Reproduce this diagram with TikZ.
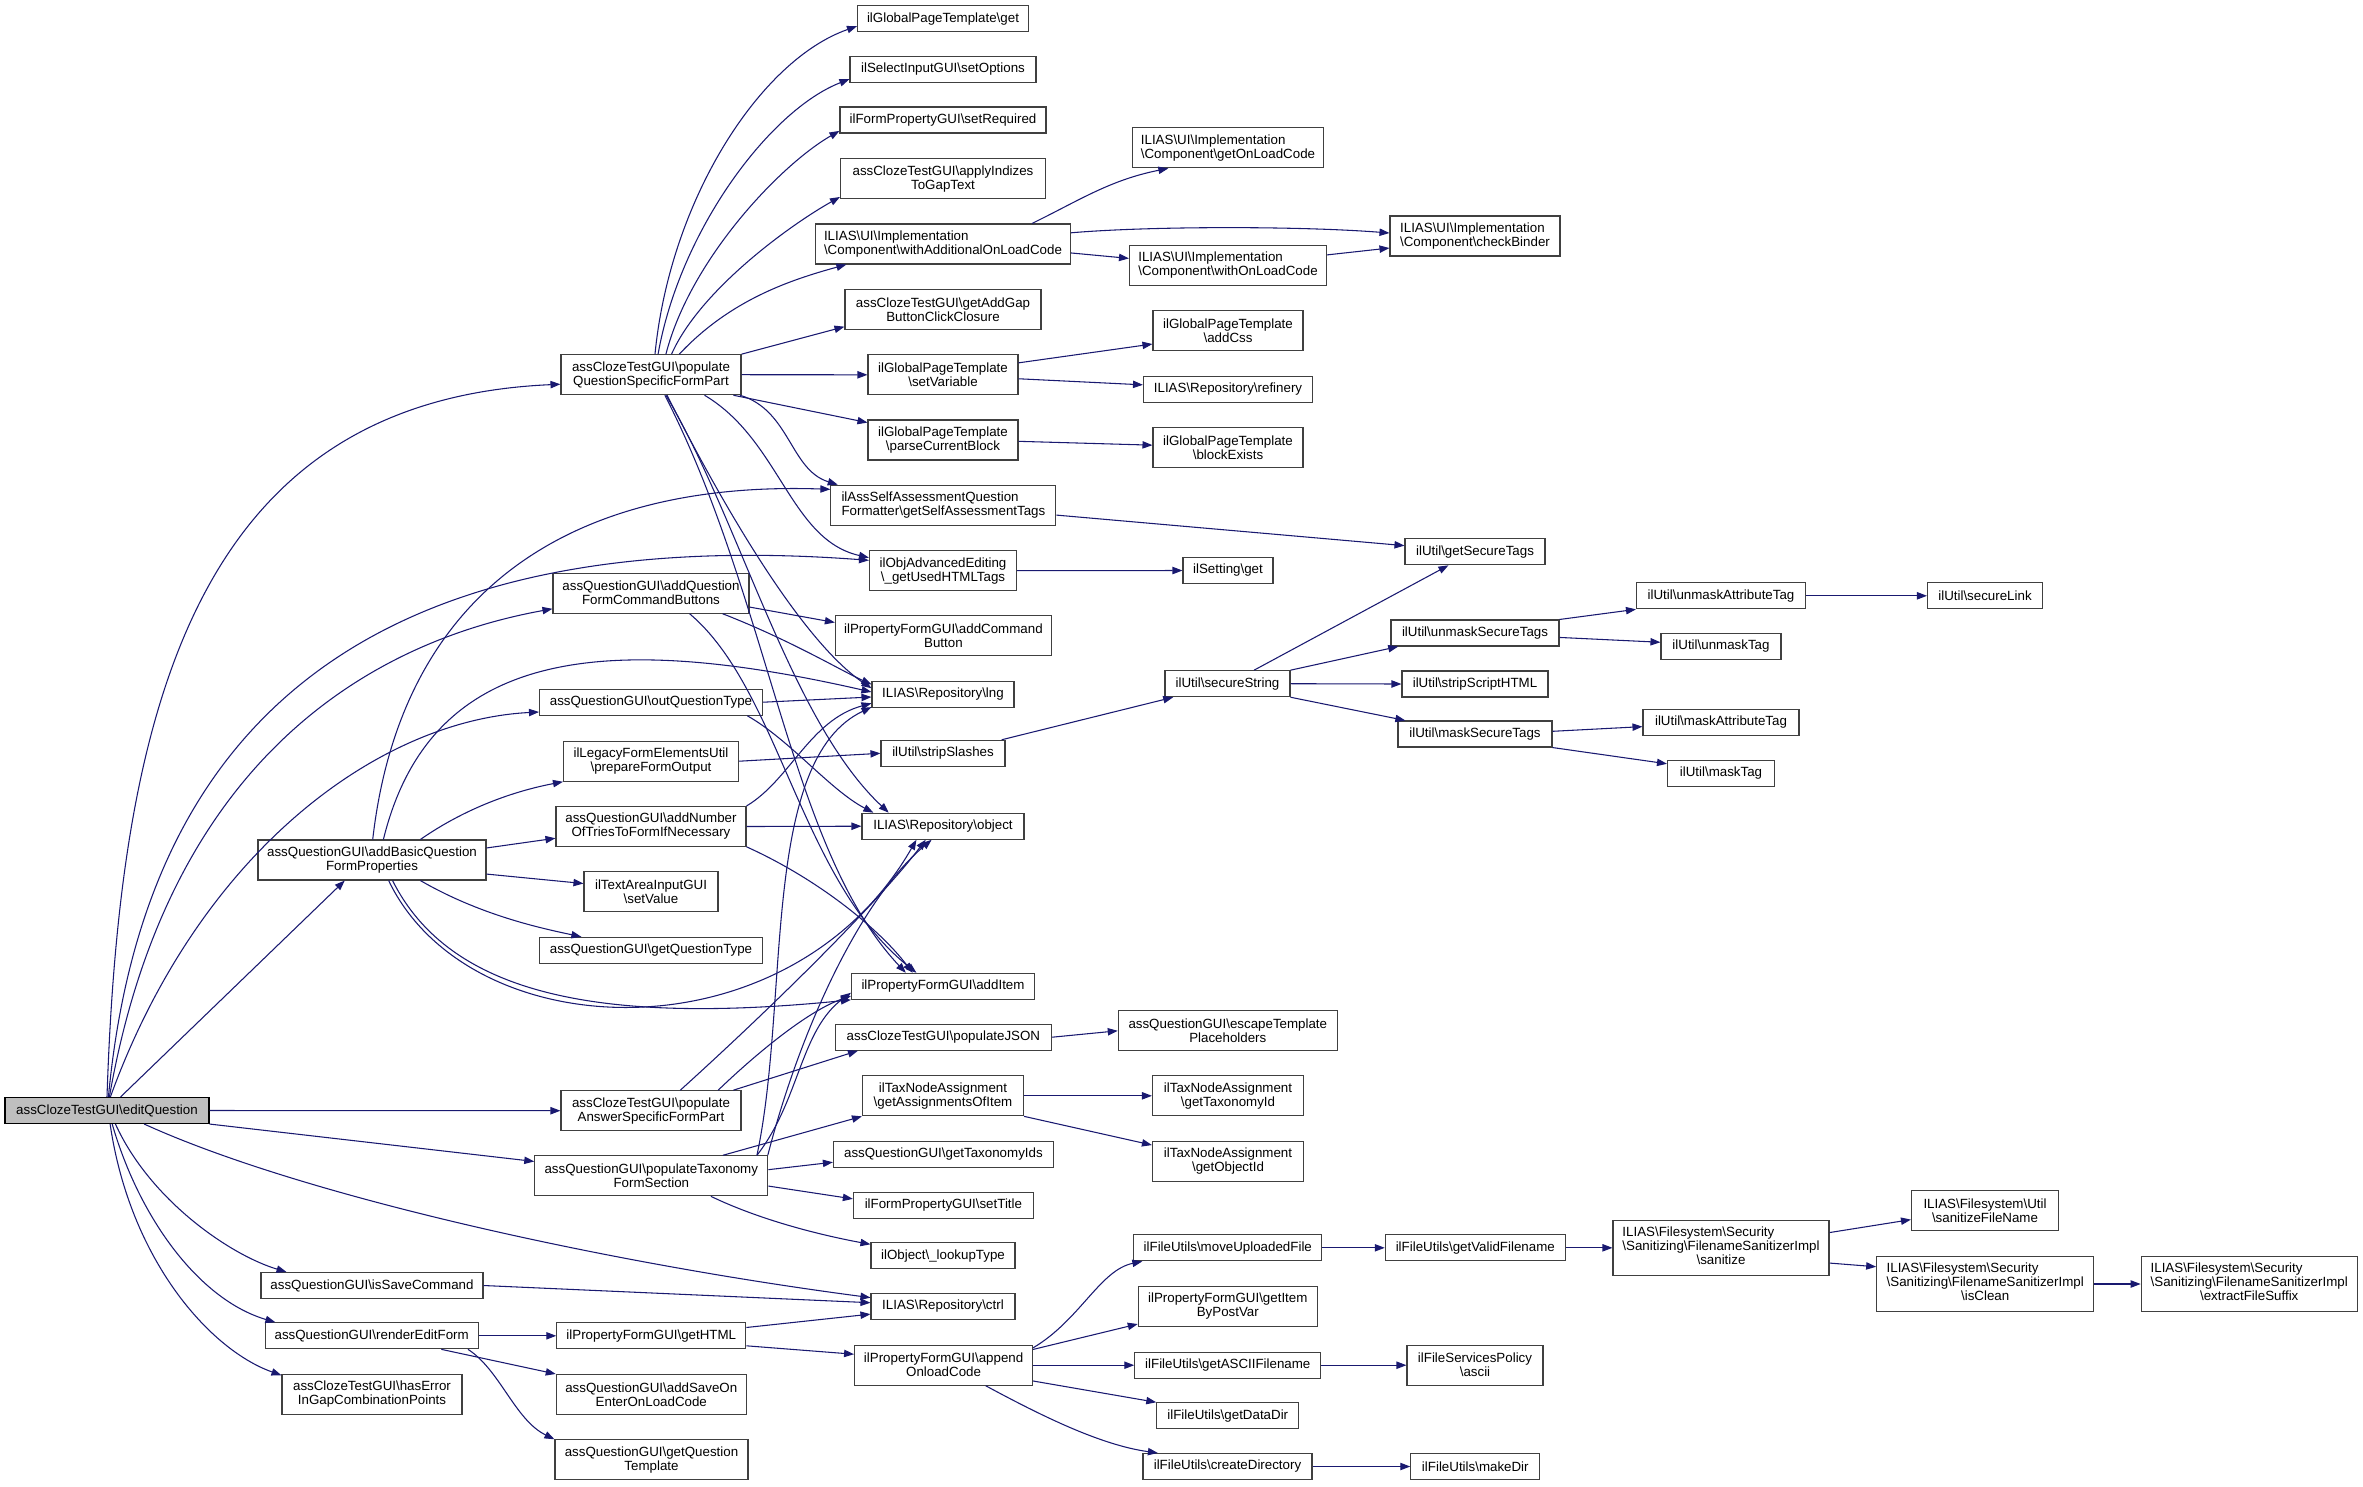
\documentclass[tikz,border=0pt]{standalone}
\usepackage{fontspec}
\setmainfont{Liberation Sans}
\usetikzlibrary{arrows.meta}
\definecolor{edgec}{RGB}{25,25,112}
\def\mybs{\textbackslash}
\begin{document}
\begin{tikzpicture}[x=0.75pt,y=-0.75pt,
  box/.style={draw=black!75, line width=0.8pt, fill=white, inner sep=0pt, font=\fontsize{10}{10.5}\selectfont, align=center},
  lbox/.style={box, align=left},
  hone/.style={minimum height=19.5pt},
  htwo/.style={minimum height=30pt},
  hthree/.style={minimum height=41.25pt},
  mw/.style={minimum width=#1*0.75pt},
  edg/.style={draw=edgec, line width=0.8pt, -{Triangle[length=7.5pt,width=5.5pt]}}]
\useasboundingbox (0,0) rectangle (2363,1486);
% ---------- nodes ----------
\node[box,hone,mw=171] (gptget) at (943,18.7) {ilGlobalPageTemplate\mybs get};
\node[box,hone,mw=186] (setOptions) at (943,69.3) {ilSelectInputGUI\mybs setOptions};
\node[box,hone,mw=206] (setRequired) at (943,120) {ilFormPropertyGUI\mybs setRequired};
\node[box,htwo,mw=205] (applyIndizes) at (943,178.8) {assClozeTestGUI\mybs applyIndizes\\ToGapText};
\node[lbox,htwo,mw=255] (withAdd) at (943,244) {ILIAS\mybs UI\mybs Implementation\\\mybs Component\mybs withAdditionalOnLoadCode};
\node[box,htwo,mw=196] (getAddGap) at (943,309.3) {assClozeTestGUI\mybs getAddGap\\ButtonClickClosure};
\node[box,htwo,mw=150] (setVar) at (943,374.8) {ilGlobalPageTemplate\\\mybs setVariable};
\node[box,htwo,mw=150] (parseCB) at (943,440) {ilGlobalPageTemplate\\\mybs parseCurrentBlock};
\node[lbox,htwo,mw=191] (getOnLoad) at (1228,147.8) {ILIAS\mybs UI\mybs Implementation\\\mybs Component\mybs getOnLoadCode};
\node[lbox,htwo,mw=170] (checkBinder) at (1475,236) {ILIAS\mybs UI\mybs Implementation\\\mybs Component\mybs checkBinder};
\node[lbox,htwo,mw=197] (withOnLoad) at (1228,265.3) {ILIAS\mybs UI\mybs Implementation\\\mybs Component\mybs withOnLoadCode};
\node[box,htwo,mw=150] (addCss) at (1228,330.7) {ilGlobalPageTemplate\\\mybs addCss};
\node[box,hone,mw=169] (refinery) at (1228,389.3) {ILIAS\mybs Repository\mybs refinery};
\node[box,htwo,mw=150] (blockExists) at (1228,447.8) {ilGlobalPageTemplate\\\mybs blockExists};
\node[box,htwo,mw=180] (popQS) at (651,374.7) {assClozeTestGUI\mybs populate\\QuestionSpecificFormPart};
\node[lbox,htwo,mw=225] (selfAssess) at (943.4,505.2) {ilAssSelfAssessmentQuestion\\Formatter\mybs getSelfAssessmentTags};
\node[box,htwo,mw=147] (objAdv) at (943,570.7) {ilObjAdvancedEditing\\\mybs\_getUsedHTMLTags};
\node[box,htwo,mw=216] (addCB) at (943.4,635.8) {ilPropertyFormGUI\mybs addCommand\\Button};
\node[box,hone,mw=142] (lng) at (943,694.5) {ILIAS\mybs Repository\mybs lng};
\node[box,hone,mw=124] (stripSl) at (943,753.3) {ilUtil\mybs stripSlashes};
\node[box,hone,mw=162] (object) at (943,826.2) {ILIAS\mybs Repository\mybs object};
\node[box,hone,mw=183] (addItem) at (943,986.3) {ilPropertyFormGUI\mybs addItem};
\node[box,hone,mw=90] (settingGet) at (1228,570.5) {ilSetting\mybs get};
\node[box,hone,mw=125] (secStr) at (1227.5,683.7) {ilUtil\mybs secureString};
\node[box,hone,mw=140] (getSecTags) at (1475,551.8) {ilUtil\mybs getSecureTags};
\node[box,hone,mw=168] (unmaskST) at (1475,633) {ilUtil\mybs unmaskSecureTags};
\node[box,hone,mw=146] (stripScript) at (1475,684) {ilUtil\mybs stripScriptHTML};
\node[box,hone,mw=154] (maskST) at (1475,734) {ilUtil\mybs maskSecureTags};
\node[box,hone,mw=169] (unmaskAttr) at (1721,595.8) {ilUtil\mybs unmaskAttributeTag};
\node[box,hone,mw=115] (secureLink) at (1985,595.8) {ilUtil\mybs secureLink};
\node[box,hone,mw=120] (unmaskTag) at (1721,646.5) {ilUtil\mybs unmaskTag};
\node[box,hone,mw=156] (maskAttr) at (1721,722.5) {ilUtil\mybs maskAttributeTag};
\node[box,hone,mw=107] (maskTag) at (1721,773.3) {ilUtil\mybs maskTag};
\node[box,htwo,mw=196] (addQFCB) at (651,593.2) {assQuestionGUI\mybs addQuestion\\FormCommandButtons};
\node[box,hone,mw=223] (outQT) at (651,702.2) {assQuestionGUI\mybs outQuestionType};
\node[box,htwo,mw=175] (legacy) at (651,761.2) {ilLegacyFormElementsUtil\\\mybs prepareFormOutput};
\node[box,htwo,mw=190] (addNT) at (651,826.5) {assQuestionGUI\mybs addNumber\\OfTriesToFormIfNecessary};
\node[box,htwo,mw=228] (addBasic) at (372,860) {assQuestionGUI\mybs addBasicQuestion\\FormProperties};
\node[box,htwo,mw=134] (textArea) at (651,891.8) {ilTextAreaInputGUI\\\mybs setValue};
\node[box,hone,mw=223] (getQT) at (651,950.3) {assQuestionGUI\mybs getQuestionType};
\node[box,hone,mw=204,fill=black!25,draw=black] (editQ) at (107,1110.5) {assClozeTestGUI\mybs editQuestion};
\node[box,htwo,mw=180] (popASFP) at (651,1110.7) {assClozeTestGUI\mybs populate\\AnswerSpecificFormPart};
\node[box,htwo,mw=233] (popTax) at (651.3,1175.8) {assQuestionGUI\mybs populateTaxonomy\\FormSection};
\node[box,hone,mw=222] (isSave) at (372,1285.5) {assQuestionGUI\mybs isSaveCommand};
\node[box,hone,mw=213] (renderEdit) at (371.7,1335.8) {assQuestionGUI\mybs renderEditForm};
\node[box,htwo,mw=180] (hasError) at (372,1394.5) {assClozeTestGUI\mybs hasError\\InGapCombinationPoints};
\node[box,hone,mw=189] (getHTML) at (651.3,1335.8) {ilPropertyFormGUI\mybs getHTML};
\node[box,htwo,mw=190] (addSaveOn) at (651.3,1394.5) {assQuestionGUI\mybs addSaveOn\\EnterOnLoadCode};
\node[box,htwo,mw=193] (getQTemplate) at (651.5,1459.8) {assQuestionGUI\mybs getQuestion\\Template};
\node[box,hone,mw=216] (popJSON) at (943.4,1037.2) {assClozeTestGUI\mybs populateJSON};
\node[box,htwo,mw=219] (escapeTpl) at (1227.8,1030.8) {assQuestionGUI\mybs escapeTemplate\\Placeholders};
\node[box,htwo,mw=161] (getAssign) at (943,1095.8) {ilTaxNodeAssignment\\\mybs getAssignmentsOfItem};
\node[box,htwo,mw=151] (getTaxId) at (1228,1095.8) {ilTaxNodeAssignment\\\mybs getTaxonomyId};
\node[box,htwo,mw=151] (getObjId) at (1228,1161.2) {ilTaxNodeAssignment\\\mybs getObjectId};
\node[box,hone,mw=220] (getTaxIds) at (943.4,1154.5) {assQuestionGUI\mybs getTaxonomyIds};
\node[box,hone,mw=180] (setTitle) at (943.4,1205.2) {ilFormPropertyGUI\mybs setTitle};
\node[box,hone,mw=144] (lookupType) at (943,1255.8) {ilObject\mybs\_lookupType};
\node[box,hone,mw=144] (ctrl) at (943,1306.5) {ILIAS\mybs Repository\mybs ctrl};
\node[box,htwo,mw=178] (appendOnload) at (943.6,1365.2) {ilPropertyFormGUI\mybs append\\OnloadCode};
\node[box,hone,mw=188] (moveUp) at (1227.8,1247.8) {ilFileUtils\mybs moveUploadedFile};
\node[box,htwo,mw=179] (getItemBP) at (1227.8,1306.5) {ilPropertyFormGUI\mybs getItem\\ByPostVar};
\node[box,hone,mw=186] (getASCII) at (1227.8,1365.2) {ilFileUtils\mybs getASCIIFilename};
\node[box,hone,mw=142] (getDataDir) at (1227.8,1415.8) {ilFileUtils\mybs getDataDir};
\node[box,hone,mw=169] (createDir) at (1227.5,1466.5) {ilFileUtils\mybs createDirectory};
\node[box,hone,mw=180] (getValid) at (1475.3,1247.8) {ilFileUtils\mybs getValidFilename};
\node[box,htwo,mw=136] (fsPolicy) at (1475,1365.2) {ilFileServicesPolicy\\\mybs ascii};
\node[box,hone,mw=129] (makeDir) at (1475.3,1466.5) {ilFileUtils\mybs makeDir};
\node[box,hthree,mw=216] (sanitize) at (1721,1247.8) {\begin{tabular}{@{}l@{}}ILIAS\mybs Filesystem\mybs Security\\\mybs Sanitizing\mybs FilenameSanitizerImpl\\\multicolumn{1}{@{}c@{}}{\mybs sanitize}\end{tabular}};
\node[box,htwo,mw=147] (sanitizeFN) at (1985,1210.5) {ILIAS\mybs Filesystem\mybs Util\\\mybs sanitizeFileName};
\node[box,hthree,mw=217] (isClean) at (1985.2,1284) {\begin{tabular}{@{}l@{}}ILIAS\mybs Filesystem\mybs Security\\\mybs Sanitizing\mybs FilenameSanitizerImpl\\\multicolumn{1}{@{}c@{}}{\mybs isClean}\end{tabular}};
\node[box,hthree,mw=216] (extractSuffix) at (2249.2,1284) {\begin{tabular}{@{}l@{}}ILIAS\mybs Filesystem\mybs Security\\\mybs Sanitizing\mybs FilenameSanitizerImpl\\\multicolumn{1}{@{}c@{}}{\mybs extractFileSuffix}\end{tabular}};
% ---------- edges: editQuestion ----------
\draw[edg] (editQ.north) .. controls (120,700) and (200,400) .. (popQS.186);
\draw[edg] (editQ.84) .. controls (140,760) and (330,520) .. (objAdv.172);
\draw[edg] (editQ.80) .. controls (170,750) and (380,640) .. (addQFCB.189);
\draw[edg] (editQ.76) .. controls (200,850) and (380,720) .. (outQT.185);
\draw[edg] (editQ.45) -- (addBasic.217);
\draw[edg] (editQ.east) -- (popASFP.west);
\draw[edg] (editQ.south east) -- (popTax.173);
\draw[edg] (editQ.-20) .. controls (300,1195) and (600,1262) .. (ctrl.173);
\draw[edg] (editQ.-58) .. controls (150,1200) and (230,1255) .. (isSave.171);
\draw[edg] (editQ.-69) .. controls (140,1220) and (200,1300) .. (renderEdit.172);
\draw[edg] (editQ.-77) .. controls (130,1260) and (210,1350) .. (hasError.168);
% ---------- populateQuestionSpecificFormPart ----------
\draw[edg] (popQS.79) .. controls (670,200) and (760,60) .. (gptget.185);
\draw[edg] (popQS.71) .. controls (680,230) and (770,110) .. (setOptions.186);
\draw[edg] (popQS.54) .. controls (690,260) and (780,165) .. (setRequired.186);
\draw[edg] (popQS.45) .. controls (700,290) and (790,225) .. (applyIndizes.190);
\draw[edg] (popQS.36) .. controls (730,300) and (790,280) .. (withAdd.192);
\draw[edg] (popQS.north east) -- (getAddGap.190);
\draw[edg] (popQS.east) -- (setVar.west);
\draw[edg] (popQS.-14) -- (parseCB.167);
\draw[edg] (popQS.-13) .. controls (790,410) and (790,470) .. (selfAssess.169);
\draw[edg] (popQS.-21) .. controls (780,440) and (790,540) .. (objAdv.170);
\draw[edg] (popQS.-52) .. controls (720,500) and (800,640) .. (lng.175);
\draw[edg] (popQS.-54) .. controls (740,520) and (790,720) .. (object.166);
\draw[edg] (popQS.-56) .. controls (770,600) and (790,850) .. (addItem.160);
% ---------- right part, top ----------
\draw[edg] (withAdd.13) .. controls (1080,200) and (1110,180) .. (getOnLoad.199);
\draw[edg] (withAdd.5) .. controls (1150,226) and (1300,226) .. (checkBinder.178);
\draw[edg] (withAdd.-4.5) -- (withOnLoad.176);
\draw[edg] (withOnLoad.6) -- (checkBinder.188);
\draw[edg] (setVar.9.7) -- (addCss.190);
\draw[edg] (setVar.-3.2) -- (refinery.177);
\draw[edg] (parseCB.-1.5) -- (blockExists.178.6);
\draw[edg] (selfAssess.-5) -- (getSecTags.175.3);
\draw[edg] (objAdv.east) -- (settingGet.west);
\draw[edg] (stripSl.13) -- (secStr.194);
\draw[edg] (secStr.27) -- (getSecTags.207);
\draw[edg] (secStr.north east) -- (unmaskST.190);
\draw[edg] (secStr.east) -- (stripScript.west);
\draw[edg] (secStr.south east) -- (maskST.169);
\draw[edg] (unmaskST.north east) -- (unmaskAttr.south west);
\draw[edg] (unmaskST.-3.4) -- (unmaskTag.176.7);
\draw[edg] (unmaskAttr.east) -- (secureLink.west);
\draw[edg] (maskST.2.2) -- (maskAttr.183.3);
\draw[edg] (maskST.south east) -- (maskTag.170);
% ---------- middle column ----------
\draw[edg] (addQFCB.-8.6) -- (addCB.173);
\draw[edg] (addQFCB.-16) .. controls (790,640) and (840,670) .. (lng.172);
\draw[edg] (addQFCB.-28) .. controls (780,690) and (800,880) .. (addItem.153);
\draw[edg] (outQT.east) -- (lng.182);
\draw[edg] (outQT.-8.3) .. controls (790,740) and (830,790) .. (object.169);
\draw[edg] (legacy.east) -- (stripSl.west);
\draw[edg] (addNT.north east) .. controls (790,780) and (810,720) .. (lng.187);
\draw[edg] (addNT.east) -- (object.west);
\draw[edg] (addNT.-12.7) .. controls (820,880) and (880,930) .. (addItem.156);
% ---------- addBasicQuestionFormProperties ----------
\draw[edg] (addBasic.88) .. controls (400,600) and (560,480) .. (selfAssess.172);
\draw[edg] (addBasic.61) .. controls (430,650) and (600,630) .. (lng.178);
\draw[edg] (addBasic.23.5) .. controls (470,805) and (520,790) .. (legacy.south west);
\draw[edg] (addBasic.6.5) -- (addNT.187);
\draw[edg] (addBasic.-7) -- (textArea.173.4);
\draw[edg] (addBasic.-23.5) .. controls (480,915) and (540,928) .. (getQT.169);
\draw[edg] (addBasic.-51) .. controls (470,1050) and (790,1060) .. (object.207);
\draw[edg] (addBasic.-45) .. controls (450,995) and (600,1025) .. (addItem.south west);
% ---------- populateAnswerSpecificFormPart / Taxonomy ----------
\draw[edg] (popASFP.14) -- (popJSON.189);
\draw[edg] (popASFP.17) .. controls (760,1050) and (810,1010) .. (addItem.186);
\draw[edg] (popASFP.35) .. controls (780,1000) and (880,900) .. (object.218);
\draw[edg] (popTax.16) -- (getAssign.south west);
\draw[edg] (popTax.3.8) -- (getTaxIds.184.4);
\draw[edg] (popTax.-5.9) -- (setTitle.176);
\draw[edg] (popTax.-19) .. controls (760,1220) and (820,1235) .. (lookupType.171.5);
\draw[edg] (popTax.11.2) .. controls (790,1000) and (760,760) .. (lng.190);
\draw[edg] (popTax.10.8) .. controls (800,1030) and (860,900) .. (object.230);
\draw[edg] (popTax.11.7) .. controls (800,1100) and (800,1030) .. (addItem.184);
\draw[edg] (popJSON.east) -- (escapeTpl.west);
\draw[edg] (getAssign.east) -- (getTaxId.west);
\draw[edg] (getAssign.south east) -- (getObjId.168);
% ---------- bottom ----------
\draw[edg] (isSave.east) -- (ctrl.177);
\draw[edg] (renderEdit.east) -- (getHTML.west);
\draw[edg] (renderEdit.-11.6) -- (addSaveOn.north west);
\draw[edg] (renderEdit.-8.4) .. controls (500,1370) and (515,1420) .. (getQTemplate.north west);
\draw[edg] (getHTML.5.3) -- (ctrl.186.7);
\draw[edg] (getHTML.-6.6) -- (appendOnload.173.5);
\draw[edg] (appendOnload.11.4) .. controls (1080,1320) and (1100,1270) .. (moveUp.189);
\draw[edg] (appendOnload.10.1) -- (getItemBP.191.7);
\draw[edg] (appendOnload.east) -- (getASCII.west);
\draw[edg] (appendOnload.-10.8) -- (getDataDir.north west);
\draw[edg] (appendOnload.-26) .. controls (1040,1415) and (1100,1445) .. (createDir.169);
\draw[edg] (moveUp.east) -- (getValid.west);
\draw[edg] (getValid.east) -- (sanitize.west);
\draw[edg] (sanitize.8.3) -- (sanitizeFN.187.4);
\draw[edg] (sanitize.-8) -- (isClean.171.6);
\draw[edg] (isClean.east) -- (extractSuffix.west);
\draw[edg] (getASCII.east) -- (fsPolicy.west);
\draw[edg] (createDir.east) -- (makeDir.west);
\end{tikzpicture}
\end{document}
